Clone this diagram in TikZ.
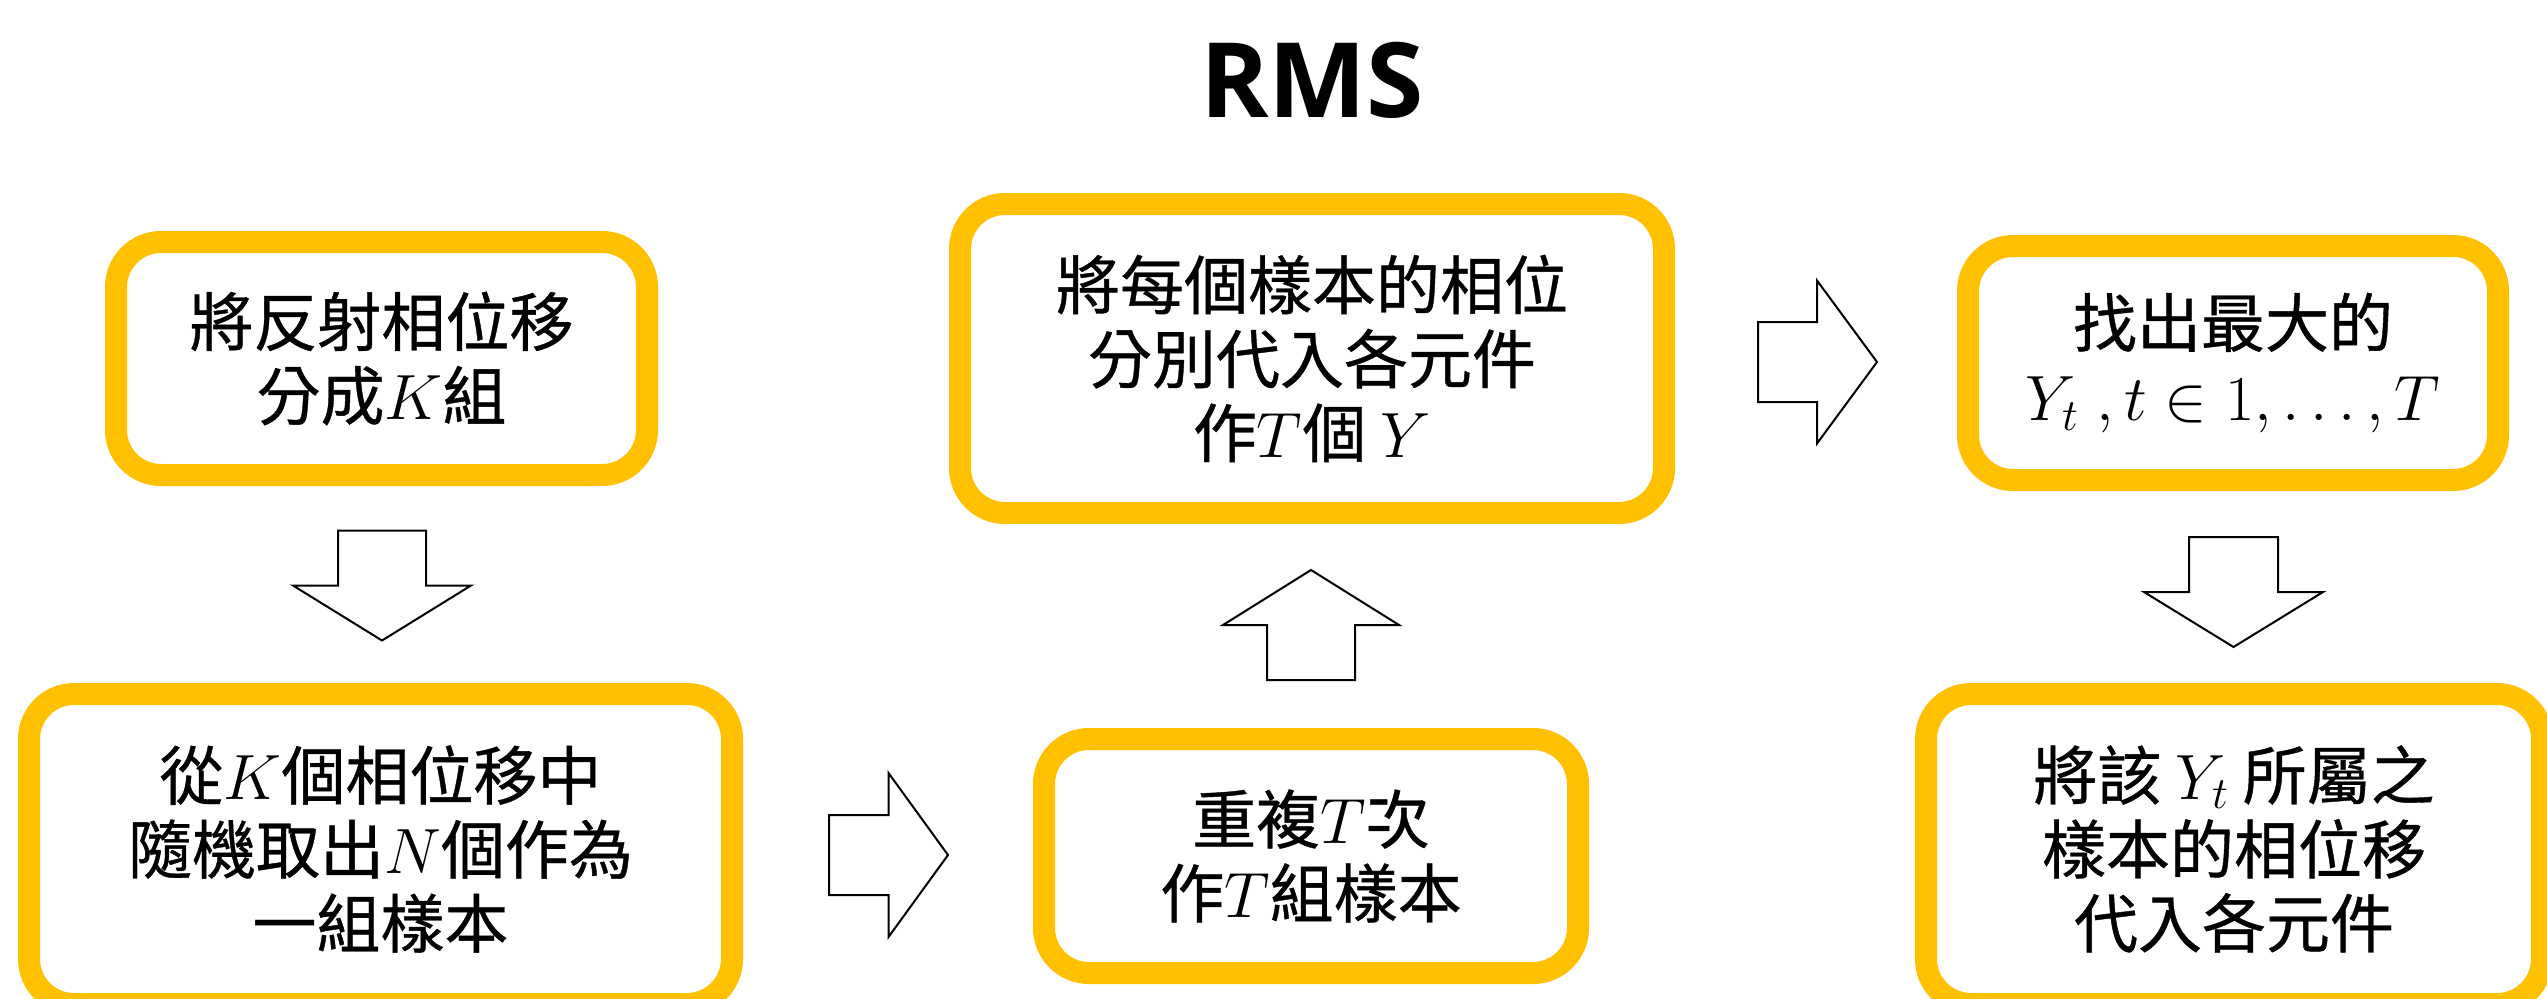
\documentclass[tikz,border=0pt]{standalone}
\usepackage{fix-cm}
\usepackage{fontspec}
\newfontfamily\cjk{Noto Sans CJK TC}[FakeBold=0.6]
\newfontfamily\titlefont{Open Sans}
\definecolor{gold}{RGB}{255,192,0}
\begin{document}
\begin{tikzpicture}[x=1pt,y=-1pt,
  box/.style={draw=gold, line width=22pt, rounded corners=45pt, align=center,
    inner sep=0pt, fill=white, font=\cjk\fontsize{64}{74}\selectfont},
  blockarrow/.style={draw=black, line width=2pt, fill=white, line join=miter}]
\useasboundingbox (0,0) rectangle (2547,998);
\fill[white] (0,0) rectangle (2547,998);

\node[font=\titlefont\bfseries\fontsize{104}{110}\selectfont] (title) at (1312,80) {RMS};

\node[box, minimum width=531pt, minimum height=233pt] (b1) at (381.5,358.5)
  {將反射相位移\\分成$K$組};
\node[box, minimum width=703pt, minimum height=310pt] (b2) at (380.5,849)
  {從$K$個相位移中\\隨機取出$N$個作為\\一組樣本};
\node[box, minimum width=534pt, minimum height=234pt] (b4) at (1311,856)
  {重複$T$次\\作$T$組樣本};
\node[box, minimum width=704pt, minimum height=309pt] (b3) at (1312,358.5)
  {將每個樣本的相位\\分別代入各元件\\作$T$個 $Y$};
\node[box, minimum width=530pt, minimum height=234pt] (b5) at (2233,363)
  {找出最大的\\$Y_t\;, t \in 1, \ldots, T$};
\node[box, minimum width=616pt, minimum height=310pt] (b6) at (2234,849)
  {將該 $Y_t$ 所屬之\\樣本的相位移\\代入各元件};

\coordinate (a1) at (382,585.5);
\coordinate (a2) at (888.5,855);
\coordinate (a3) at (1311,625);
\coordinate (a4) at (1817,362);
\coordinate (a5) at (2233.5,592);

% down arrow b1 -> b2
\draw[blockarrow, shift={(a1)}] (-44,-55) -- (44,-55) -- (44,0) -- (89,0) -- (0,55) -- (-89,0) -- (-44,0) -- cycle;
% right arrow b2 -> b4
\draw[blockarrow, shift={(a2)}] (-59.5,-40) -- (0,-40) -- (0,-82) -- (59.5,0) -- (0,82) -- (0,40) -- (-59.5,40) -- cycle;
% up arrow b4 -> b3
\draw[blockarrow, shift={(a3)}] (-44,55) -- (44,55) -- (44,0) -- (88,0) -- (0,-55) -- (-88,0) -- (-44,0) -- cycle;
% right arrow b3 -> b5
\draw[blockarrow, shift={(a4)}] (-59,-40) -- (0,-40) -- (0,-81.5) -- (60,0) -- (0,81.5) -- (0,40) -- (-59,40) -- cycle;
% down arrow b5 -> b6
\draw[blockarrow, shift={(a5)}] (-44.5,-55) -- (44.5,-55) -- (44.5,0) -- (89.5,0) -- (0,55) -- (-89.5,0) -- (-44.5,0) -- cycle;
\end{tikzpicture}
\end{document}
